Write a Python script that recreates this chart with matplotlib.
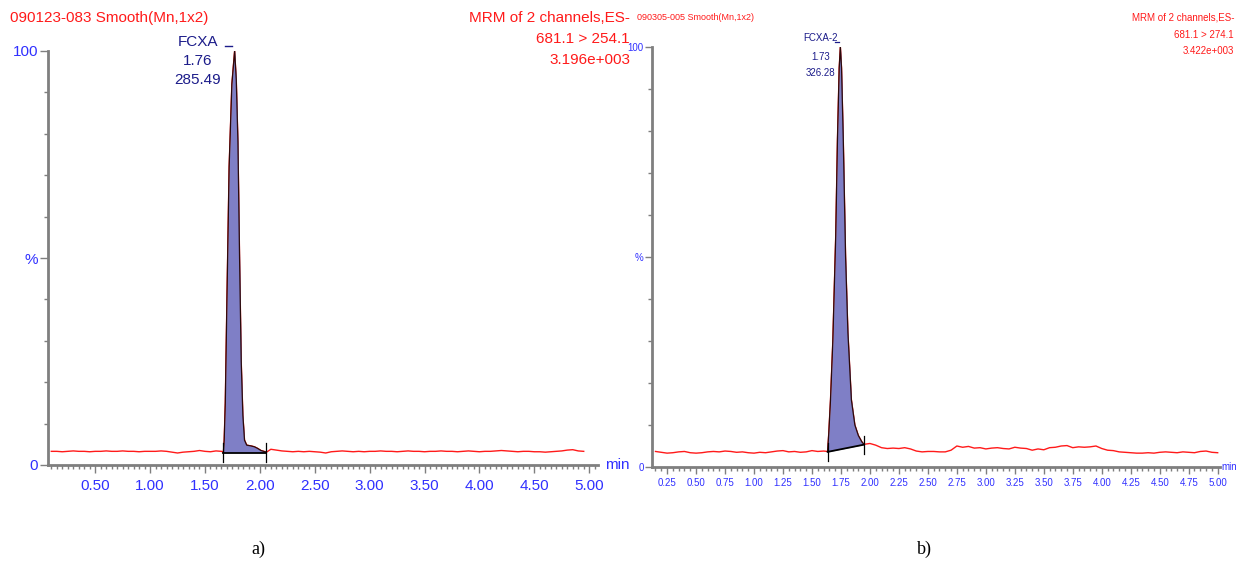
"""Two MRM chromatograms of FCXA side by side, (a) and (b)."""

import matplotlib
matplotlib.use('Agg')
from matplotlib import pyplot
from matplotlib.ticker import MultipleLocator, FixedLocator
import numpy

W, H = 1236, 562

# ---- data: panel a ----
base_t_a = numpy.round(numpy.arange(0.10, 4.951, 0.05), 2)
base_a = [3.3, 3.3, 3.2, 3.3, 3.4, 3.3, 3.3, 3.2, 3.3, 3.3,
          3.4, 3.3, 3.3, 3.4, 3.3, 3.3, 3.2, 3.3, 3.3, 3.3,
          3.4, 3.3, 3.1, 2.9, 3.1, 3.2, 3.3, 3.5, 3.3, 3.2,
          3.4, 3.3, 3.3, 3.3, 3.3, 3.3, 3.3, 3.3, 3.3, 3.3,
          3.8, 3.6, 3.4, 3.3, 3.2, 3.3, 3.2, 3.3, 3.2, 3.1,
          2.9, 3.2, 3.3, 3.4, 3.3, 3.2, 3.3, 3.2, 3.3, 3.3,
          3.4, 3.3, 3.3, 3.2, 3.3, 3.4, 3.3, 3.3, 3.2, 3.3,
          3.3, 3.4, 3.3, 3.3, 3.2, 3.3, 3.4, 3.3, 3.2, 3.3,
          3.3, 3.4, 3.5, 3.4, 3.3, 3.2, 3.3, 3.3, 3.2, 3.2,
          3.1, 3.2, 3.3, 3.4, 3.6, 3.7, 3.4, 3.3]
peak_t_a = [1.668, 1.675, 1.685, 1.70, 1.72, 1.745, 1.77, 1.785, 1.80,
            1.815, 1.83, 1.845, 1.86, 1.88, 1.92, 1.95, 1.98, 2.01, 2.06]
peak_a = [3.1, 6, 15, 40, 72, 92, 100, 93, 78,
          50, 25, 12, 6, 4.8, 4.6, 4.4, 4.0, 3.5, 3.1]
integ_a = [3.0, 3.0]          # integration baseline heights at start / end
info_a = ['FCXA', '1.76', '285.49']
head_a = '090123-083 Smooth(Mn,1x2)'
chan_a = ['MRM of 2 channels,ES-', '681.1 > 254.1', '3.196e+003']

# ---- data: panel b ----
base_t_b = numpy.round(numpy.arange(0.15, 5.001, 0.05), 2)
base_b = [3.7, 3.5, 3.3, 3.4, 3.6, 3.7, 3.4, 3.3, 3.4, 3.6,
          3.7, 3.6, 3.8, 3.7, 3.5, 3.6, 3.4, 3.3, 3.5, 3.4,
          3.6, 3.8, 3.9, 3.6, 3.7, 3.5, 3.6, 3.9, 3.7, 3.8,
          3.8, 3.8, 3.8, 3.8, 3.8, 3.8, 5.4, 5.6, 5.2, 4.6,
          4.4, 4.5, 4.4, 4.6, 4.3, 3.8, 3.6, 3.7, 3.7, 3.6,
          3.6, 4.0, 5.0, 4.7, 4.9, 4.5, 4.6, 4.3, 4.5, 4.6,
          4.4, 4.3, 4.7, 4.5, 4.4, 4.0, 4.3, 4.1, 4.6, 4.7,
          5.0, 5.1, 4.6, 4.8, 4.7, 4.8, 5.0, 4.4, 4.0, 3.9,
          3.6, 3.5, 3.4, 3.3, 3.3, 3.4, 3.3, 3.5, 3.6, 3.5,
          3.4, 3.6, 3.5, 3.4, 3.7, 3.8, 3.5, 3.4]
peak_t_b = [1.635, 1.645, 1.66, 1.68, 1.695, 1.705, 1.72, 1.735, 1.745,
            1.755, 1.77, 1.79, 1.81, 1.84, 1.87, 1.90, 1.93, 1.945]
peak_b = [3.7, 8, 16, 30, 45, 55, 78, 95, 100,
          95, 78, 50, 32, 16, 10, 7.5, 6.0, 5.5]
integ_b = [3.6, 5.3]
info_b = ['FCXA-2', '1.73', '326.28']
head_b = '090305-005 Smooth(Mn,1x2)'
chan_b = ['MRM of 2 channels,ES-', '681.1 > 274.1', '3.422e+003']

RED = '#ff1a1a'
BLUE = '#3030ff'
NAVY = '#1c1c8a'
FILL = '#7f7fc6'
GREY = '#7f7f7f'
SANS = ['Liberation Sans', 'DejaVu Sans']
NARROW = ['Liberation Sans Narrow', 'Liberation Sans', 'DejaVu Sans']


def merge(bt, bv, pt, pv):
    bt = numpy.asarray(bt)
    bv = numpy.asarray(bv)
    before = bt < pt[0]
    after = bt > pt[-1]
    t = numpy.concatenate([bt[before], pt, bt[after]])
    v = numpy.concatenate([bv[before], pv, bv[after]])
    return t, v


def px(x, y):
    return x / W, 1 - y / H


def draw(ax, bt, bv, pt, pv, integ, xlim, xmajor, font, fs, tl, minx):
    t, v = merge(bt, bv, pt, pv)
    ax.plot(t, v, color=RED, lw=1.0, zorder=2)
    base = numpy.interp(pt, [pt[0], pt[-1]], integ)
    ax.fill_between(pt, base, pv, color=FILL, lw=0, zorder=3)
    ax.plot(pt, pv, color='#2a0a0a', lw=0.9, zorder=4)
    ax.plot([pt[0], pt[-1]], integ, color='black', lw=1.3, zorder=4)
    for x0, y0 in zip([pt[0], pt[-1]], integ):
        ax.plot([x0, x0], [y0 - 2.2, y0 + 2.2], color='black', lw=0.9,
                zorder=4, clip_on=False)
    ax.set_ylim(0, 100)
    for s in ('top', 'right'):
        ax.spines[s].set_visible(False)
    for s in ('left', 'bottom'):
        ax.spines[s].set_color(GREY)
        ax.spines[s].set_linewidth(2.0)
    ax.xaxis.set_major_locator(MultipleLocator(xmajor))
    ax.xaxis.set_minor_locator(MultipleLocator(0.05))
    ax.yaxis.set_major_locator(FixedLocator([0, 50, 100]))
    ax.yaxis.set_minor_locator(MultipleLocator(10))
    ax.set_yticklabels(['0', '%', '100'])
    ax.set_xlim(*xlim)
    ticks = [x for x in ax.get_xticks() if xlim[0] <= x <= xlim[1]]
    ax.set_xticks(ticks)
    ax.set_xticklabels(['%.2f' % x for x in ticks])
    ax.set_xlim(*xlim)
    ax.tick_params(axis='both', which='both', color=GREY, width=1.0,
                   direction='out')
    ax.tick_params(axis='x', which='major', length=tl[0], pad=tl[2])
    ax.tick_params(axis='x', which='minor', length=tl[1])
    ax.tick_params(axis='y', which='major', length=tl[0], pad=1)
    ax.tick_params(axis='y', which='minor', length=tl[1])
    for lab in ax.get_xticklabels() + ax.get_yticklabels():
        lab.set_color(BLUE)
        lab.set_fontsize(fs)
        lab.set_family(font)
    ax.text(minx, 0, 'min', transform=ax.transAxes, color=BLUE,
            fontsize=fs, family=font, ha='left', va='center')
    ax.patch.set_alpha(0)


fig = pyplot.figure(figsize=(W / 100, H / 100), dpi=100)

# panel a
ax1 = fig.add_axes([48 / W, 1 - 465 / H, 550 / W, 414 / H])
draw(ax1, base_t_a, base_a, peak_t_a, peak_a, integ_a, (0.07, 5.08), 0.5,
     SANS, 11, (6, 3, 4), 1.013)
apex_a = peak_t_a[int(numpy.argmax(peak_a))]
for s, yy in zip(info_a, [42, 61, 80]):
    fig.text(*px(198, yy), s, color=NAVY, fontsize=11, family=SANS,
             ha='center', va='center')
ax1.plot([apex_a - 0.09, apex_a - 0.02], [101.3, 101.3], color=NAVY,
         lw=1.0, clip_on=False)
fig.text(*px(10, 18), head_a, color=RED, fontsize=11, family=SANS,
         ha='left', va='center')
for s, yy in zip(chan_a, [18, 39, 60]):
    fig.text(*px(630, yy), s, color=RED, fontsize=11, family=SANS,
             ha='right', va='center')

# panel b
ax2 = fig.add_axes([652 / W, 1 - 467 / H, 568 / W, 420 / H])
draw(ax2, base_t_b, base_b, peak_t_b, peak_b, integ_b, (0.12, 5.02), 0.25,
     NARROW, 7, (5, 3, 3), 1.003)
apex_b = peak_t_b[int(numpy.argmax(peak_b))]
for s, yy in zip(info_b, [38, 57, 73]):
    fig.text(*px(821, yy), s, color=NAVY, fontsize=7, family=NARROW,
             ha='center', va='center')
ax2.plot([apex_b - 0.05, apex_b - 0.01], [101.2, 101.2], color=NAVY,
         lw=0.9, clip_on=False)
fig.text(*px(637, 18), head_b, color=RED, fontsize=6.5, family=NARROW,
         ha='left', va='center')
for s, yy in zip(chan_b, [18, 35, 51]):
    fig.text(*px(1234, yy), s, color=RED, fontsize=7, family=NARROW,
             ha='right', va='center')

# captions
fig.text(*px(258, 549), 'a)', fontsize=13, family='Liberation Serif',
         ha='center', va='center')
fig.text(*px(924, 549), 'b)', fontsize=13, family='Liberation Serif',
         ha='center', va='center')

fig.savefig('out.png', dpi=100)
